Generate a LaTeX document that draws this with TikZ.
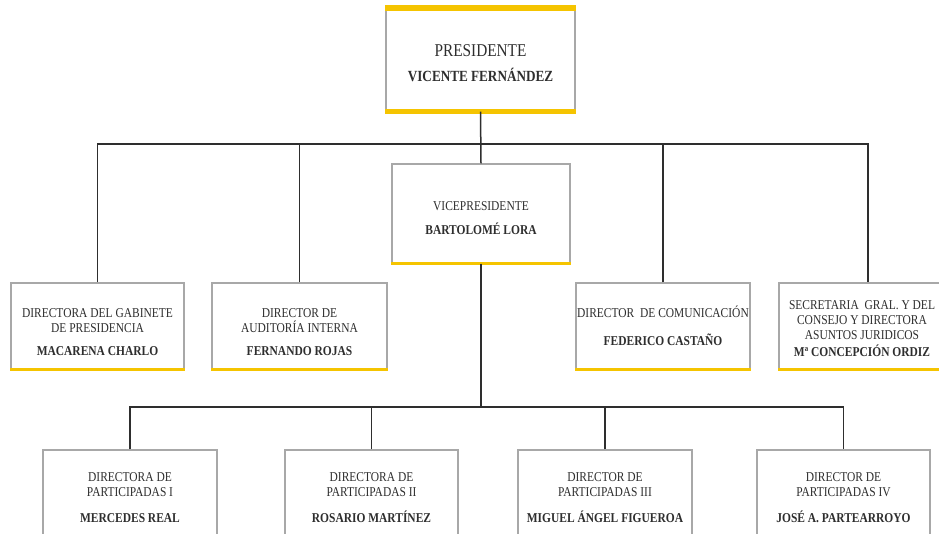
\documentclass[tikz,border=0pt]{standalone}
\usepackage{fontspec}
\setmainfont{Liberation Serif}[FakeStretch=0.85]
\usetikzlibrary{positioning}
\definecolor{amarillo}{HTML}{F5C400}
\definecolor{gris}{HTML}{A8A8A8}
\definecolor{texto}{HTML}{2E2E2E}
\tikzset{
 caja/.style={draw=gris,line width=1.3pt,fill=white,text=texto,align=center,inner sep=0pt,
  minimum width=174pt,minimum height=86pt,font=\fontsize{13.5}{14.5}\selectfont},
 linea/.style={draw=texto,line width=1.5pt},
 barra/.style={draw=amarillo,line width=3pt},
}

\begin{document}
\begin{tikzpicture}[x=1pt,y=-1pt]
 \useasboundingbox (0,0) rectangle (939,533);
 \node[caja,minimum width=189pt,minimum height=102pt] (pres) at (480.5,60)
  {\mbox{}\\[4pt]{\fontsize{18}{20}\selectfont PRESIDENTE}\\[10pt]{\fontsize{15.5}{17}\selectfont\bfseries VICENTE FERNÁNDEZ}}; %presidente
 \node[caja,minimum width=178pt,minimum height=99pt] (vice) at (481,213.5)
  {\mbox{}\\[4pt]VICEPRESIDENTE\\[9pt]\textbf{BARTOLOMÉ LORA}}; %vicepresidente
 % fila 2
 \node[caja,minimum width=173pt] (gab) at (97.5,326) {\mbox{}\\[7.5pt]DIRECTORA DEL GABINETE\\DE PRESIDENCIA\\[9pt]\textbf{MACARENA CHARLO}};
 \node[caja,minimum width=175pt] (aud) at (299.5,326) {\mbox{}\\[7.5pt]DIRECTOR DE\\AUDITORÍA INTERNA\\[9pt]\textbf{FERNANDO ROJAS}};
 \node[caja] (com) at (663,326) {DIRECTOR\ \ DE COMUNICACIÓN\\[14pt]\textbf{FEDERICO CASTAÑO}};
 \node[caja,minimum width=166pt] (sec) at (862,326) {\mbox{}\\[0pt]SECRETARIA\ \ GRAL. Y DEL\\[0.5pt]CONSEJO Y DIRECTORA\\[0.5pt]ASUNTOS JURIDICOS\\[3pt]\textbf{Mª CONCEPCIÓN ORDIZ}};
 \coordinate (secarriba) at ([xshift=6pt]sec.north);
 % fila 3
 \node[caja,minimum height=90pt] (p1) at (130,495) {\mbox{}\\[0pt]DIRECTORA DE\\[0.5pt]PARTICIPADAS I\\[11pt]\textbf{MERCEDES REAL}};
 \node[caja,minimum height=90pt,minimum width=173pt] (p2) at (371.5,495) {\mbox{}\\[0pt]DIRECTORA DE\\[0.5pt]PARTICIPADAS II\\[11pt]\textbf{ROSARIO MARTÍNEZ}};
 \node[caja,minimum height=90pt] (p3) at (605,495) {\mbox{}\\[0pt]DIRECTOR DE\\[0.5pt]PARTICIPADAS III\\[11pt]\textbf{MIGUEL ÁNGEL FIGUEROA}};
 \node[caja,minimum height=90pt,minimum width=173pt] (p4) at (843.5,495) {\mbox{}\\[0pt]DIRECTOR DE\\[0.5pt]PARTICIPADAS IV\\[11pt]\textbf{JOSÉ A. PARTEARROYO}};
 % barras amarillas
 \draw[barra,line width=6pt] (pres.north west) -- (pres.north east);
 \draw[barra,line width=5pt] (pres.south west) -- (pres.south east);
 \foreach \n in {vice,gab,aud,com,sec,p1,p2,p3,p4}
  \draw[barra] (\n.south west) -- (\n.south east);
 % conectores
 \coordinate (nivel1) at (0,144);
 \coordinate (nivel2) at (0,407);
 \draw[linea] (pres.south) -- (vice.north);
 \draw[linea] (gab.north) |- (nivel1 -| secarriba) -- (secarriba);
 \foreach \n in {aud,com}
  \draw[linea] (\n.north) -- (\n.north |- nivel1);
 \draw[linea] (vice.south) -- (vice.south |- nivel2);
 \draw[linea] (p1.north) |- (nivel2 -| p4.north) -- (p4.north);
 \foreach \n in {p2,p3}
  \draw[linea] (\n.north) -- (\n.north |- nivel2);
\end{tikzpicture}
\end{document}
